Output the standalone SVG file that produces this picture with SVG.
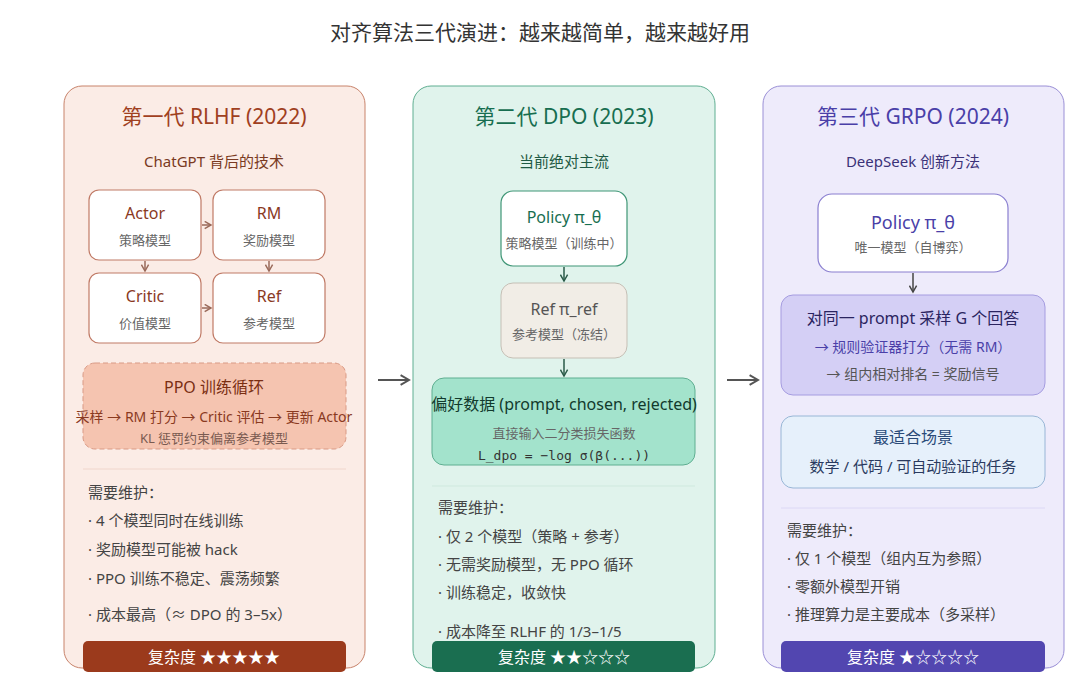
<svg xmlns="http://www.w3.org/2000/svg" width="1080" height="699" viewBox="0 0 1080 699">
<style>
text{font-family:"Noto Sans","Noto Sans CJK SC",sans-serif;text-anchor:middle}
.t{font-size:21px}
.s{font-size:15px}
.n{font-size:16px}
.sub{font-size:13px;fill:#666}
.l{font-size:15px;text-anchor:start;fill:#444}
.mono{font-family:"DejaVu Sans Mono","Noto Sans CJK SC",monospace;font-size:13px;fill:#333}
.box{fill:#fff;stroke-width:1.2}
</style>
<defs>
<marker id="ar" viewBox="0 0 10 10" refX="8" refY="5" markerWidth="6" markerHeight="6" orient="auto"><path d="M1,1L8,5L1,9" fill="none" stroke="context-stroke" stroke-width="1.6"/></marker>
</defs>
<rect width="1080" height="699" fill="#fff"/>
<text x="540" y="40" font-size="21" fill="#333">对齐算法三代演进：越来越简单，越来越好用</text>

<g id="col1">
<rect x="64" y="86" width="301" height="582" rx="18" fill="#fbece6" stroke="#c8836b"/>
<text class="t" x="214" y="124" fill="#a0401f">第一代 RLHF (2022)</text>
<text class="s" x="214" y="167" fill="#7a3a22">ChatGPT 背后的技术</text>
</g>
<g id="actor"><rect class="box" x="89" y="190" width="112" height="70" rx="10" stroke="#c07a66"/><text class="n" x="145" y="219" fill="#8a3a1f">Actor</text><text class="sub" x="145" y="245">策略模型</text></g>
<g id="rm"><rect class="box" x="213" y="190" width="112" height="70" rx="10" stroke="#c07a66"/><text class="n" x="269" y="219" fill="#8a3a1f">RM</text><text class="sub" x="269" y="245">奖励模型</text></g>
<g id="critic"><rect class="box" x="89" y="273" width="112" height="70" rx="10" stroke="#c07a66"/><text class="n" x="145" y="302" fill="#8a3a1f">Critic</text><text class="sub" x="145" y="328">价值模型</text></g>
<g id="ref1"><rect class="box" x="213" y="273" width="112" height="70" rx="10" stroke="#c07a66"/><text class="n" x="269" y="302" fill="#8a3a1f">Ref</text><text class="sub" x="269" y="328">参考模型</text></g>
<g id="ppo">
<rect x="83" y="363" width="263" height="86" rx="12" fill="#f5c4b0" stroke="#d99a85" stroke-dasharray="5 3"/>
<text class="n" x="214" y="393" fill="#7a2e12">PPO 训练循环</text>
<text x="214" y="422" font-size="14" fill="#8a3a1f">采样 → RM 打分 → Critic 评估 → 更新 Actor</text>
<text x="214" y="443" font-size="13" fill="#7a5a50">KL 惩罚约束偏离参考模型</text>
</g>
<line x1="83" y1="469" x2="346" y2="469" stroke="#f0d6cc"/>
<text class="l" x="88" y="498" fill="#5a2a1a">需要维护：</text>
<text class="l" x="88" y="526">· 4 个模型同时在线训练</text>
<text class="l" x="88" y="555">· 奖励模型可能被 hack</text>
<text class="l" x="88" y="584">· PPO 训练不稳定、震荡频繁</text>
<text class="l" x="88" y="620">· 成本最高（≈ DPO 的 3–5x）</text>
<g id="c1"><rect x="83" y="641" width="263" height="31" rx="5" fill="#9b3a1c"/><text x="214" y="663" font-size="16" fill="#fff">复杂度 ★★★★★</text></g>

<g id="col2">
<rect x="413" y="86" width="302" height="582" rx="18" fill="#e0f3ec" stroke="#5fae91"/>
<text class="t" x="564" y="124" fill="#176e50">第二代 DPO (2023)</text>
<text class="s" x="564" y="167" fill="#1e5a44">当前绝对主流</text>
</g>
<g id="policy2"><rect class="box" x="501" y="191" width="126" height="75" rx="12" stroke="#3f9676"/><text class="n" x="564" y="223" fill="#176e50">Policy π_θ</text><text class="sub" x="564" y="248">策略模型（训练中）</text></g>
<g id="ref2"><rect x="501" y="283" width="126" height="75" rx="12" fill="#f1ede6" stroke="#c5bfb5"/><text class="n" x="564" y="315" fill="#555">Ref π_ref</text><text class="sub" x="564" y="339" fill="#999">参考模型（冻结）</text></g>
<g id="pref"><rect x="432" y="378" width="263" height="87" rx="12" fill="#a3e3cc" stroke="#5fae91"/><text class="n" x="564" y="410" fill="#123a2c">偏好数据 (prompt, chosen, rejected)</text><text class="sub" x="564" y="438" fill="#214">直接输入二分类损失函数</text><text class="mono" x="564" y="460">L_dpo = −log σ(β(...))</text></g>
<line x1="432" y1="486" x2="695" y2="486" stroke="#cfe9de"/>
<text class="l" x="438" y="513" fill="#1e3a30">需要维护：</text>
<text class="l" x="438" y="542">· 仅 2 个模型（策略 + 参考）</text>
<text class="l" x="438" y="570">· 无需奖励模型，无 PPO 循环</text>
<text class="l" x="438" y="598">· 训练稳定，收敛快</text>
<text class="l" x="438" y="637">· 成本降至 RLHF 的 1/3–1/5</text>
<g id="c2"><rect x="432" y="641" width="263" height="31" rx="5" fill="#1a6e50"/><text x="564" y="663" font-size="16" fill="#fff">复杂度 ★★☆☆☆</text></g>

<g id="col3">
<rect x="763" y="86" width="301" height="582" rx="18" fill="#eeebfb" stroke="#9a8fd6"/>
<text class="t" x="913" y="124" fill="#4a3fa8">第三代 GRPO (2024)</text>
<text class="s" x="913" y="167" fill="#3b3278">DeepSeek 创新方法</text>
</g>
<g id="policy3"><rect class="box" x="818" y="194" width="190" height="78" rx="14" stroke="#8a7fd0"/><text x="913" y="229" font-size="18" fill="#4a3fa8">Policy π_θ</text><text class="sub" x="913" y="252">唯一模型（自博弈）</text></g>
<g id="grp"><rect x="781" y="295" width="264" height="100" rx="12" fill="#d4cff5" stroke="#a59ce0"/><text class="n" x="913" y="324" fill="#2a2460">对同一 prompt 采样 G 个回答</text><text x="913" y="352" font-size="14" fill="#4a3fa8">→ 规则验证器打分（无需 RM）</text><text x="913" y="379" font-size="14" fill="#555">→ 组内相对排名 = 奖励信号</text></g>
<g id="scene"><rect x="781" y="416" width="264" height="72" rx="12" fill="#e6f0fb" stroke="#98b6d6"/><text class="n" x="913" y="443" fill="#2a4a78">最适合场景</text><text x="913" y="472" font-size="15" fill="#2a3a60">数学 / 代码 / 可自动验证的任务</text></g>
<line x1="781" y1="508" x2="1045" y2="508" stroke="#dcd8f5"/>
<text class="l" x="787" y="536" fill="#2a2460">需要维护：</text>
<text class="l" x="787" y="564">· 仅 1 个模型（组内互为参照）</text>
<text class="l" x="787" y="592">· 零额外模型开销</text>
<text class="l" x="787" y="620">· 推理算力是主要成本（多采样）</text>
<g id="c3"><rect x="781" y="641" width="264" height="31" rx="5" fill="#5246b0"/><text x="913" y="663" font-size="16" fill="#fff">复杂度 ★☆☆☆☆</text></g>

<g id="connectors" fill="none" stroke-width="1.5">
<line x1="202" y1="225" x2="211" y2="225" stroke="#9a6a5a" marker-end="url(#ar)"/>
<line x1="202" y1="308" x2="211" y2="308" stroke="#9a6a5a" marker-end="url(#ar)"/>
<line x1="145" y1="261" x2="145" y2="271" stroke="#9a6a5a" marker-end="url(#ar)"/>
<line x1="269" y1="261" x2="269" y2="271" stroke="#9a6a5a" marker-end="url(#ar)"/>
<line x1="564" y1="267" x2="564" y2="281" stroke="#2a5a48" marker-end="url(#ar)"/>
<line x1="564" y1="359" x2="564" y2="376" stroke="#2a5a48" marker-end="url(#ar)"/>
<line x1="913" y1="273" x2="913" y2="292" stroke="#444" marker-end="url(#ar)"/>
<line x1="378" y1="380" x2="409" y2="380" stroke="#555" stroke-width="2" marker-end="url(#ar)"/>
<line x1="727" y1="380" x2="758" y2="380" stroke="#555" stroke-width="2" marker-end="url(#ar)"/>
</g>
</svg>
